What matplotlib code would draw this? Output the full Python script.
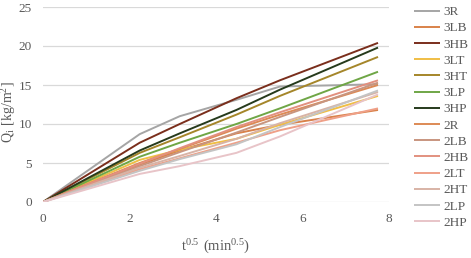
import matplotlib
matplotlib.use("Agg")
import matplotlib.pyplot as plt

x = [0, 2.236, 3.162, 4.472, 5.477, 7.746]

labels = ["3R", "3LB", "3HB", "3LT", "3HT", "3LP", "3HP",
          "2R", "2LB", "2HB", "2LT", "2HT", "2LP", "2HP"]

s_3R = [0, 8.7, 11.0, 13.1, 14.8, 15.1]
s_3LB = [0, 4.8, 6.6, 8.8, 9.9, 11.8]
s_3HB = [0, 7.6, 10.0, 13.3, 15.6, 20.4]
s_3LT = [0, 5.4, 6.7, 8.1, 9.9, 13.6]
s_3HT = [0, 6.3, 8.3, 11.2, 13.6, 18.6]
s_3LP = [0, 5.8, 7.6, 10.0, 12.0, 16.7]
s_3HP = [0, 6.6, 8.8, 11.8, 14.4, 19.8]
s_2R = [0, 5.0, 6.8, 9.4, 11.2, 15.0]
s_2LB = [0, 4.6, 6.4, 8.9, 10.9, 15.3]
s_2HB = [0, 4.9, 6.9, 9.6, 11.5, 15.6]
s_2LT = [0, 4.2, 5.6, 7.6, 9.2, 12.0]
s_2HT = [0, 4.4, 5.9, 8.1, 10.1, 14.1]
s_2LP = [0, 4.0, 5.5, 7.4, 9.6, 14.3]
s_2HP = [0, 3.6, 4.6, 6.3, 8.4, 13.8]

series = [s_3R, s_3LB, s_3HB, s_3LT, s_3HT, s_3LP, s_3HP,
          s_2R, s_2LB, s_2HB, s_2LT, s_2HT, s_2LP, s_2HP]

colors = ["#A5A5A5", "#D9824A", "#7A2E1C", "#F0BE45", "#A5862A", "#6FA646", "#263A1C",
          "#DD8A55", "#C8957F", "#E2907F", "#EFA088", "#D8B3A6", "#C4C4C4", "#E8C4C8"]

plt.rcParams['font.family'] = ['Liberation Serif', 'DejaVu Serif']
plt.rcParams['mathtext.fontset'] = 'custom'
plt.rcParams['mathtext.rm'] = 'Liberation Serif'

fig = plt.figure(figsize=(4.71, 2.58), dpi=100)
ax = fig.add_axes([43/471, 1-202/258, (389-43)/471, (202-7)/258])

for lab, ys, c in zip(labels, series, colors):
    ax.plot(x, ys, color=c, lw=1.4, label=lab, solid_capstyle='butt')

ax.set_xlim(0, 8)
ax.set_ylim(0, 25)
ax.set_xticks([0, 2, 4, 6, 8])
ax.set_yticks([0, 5, 10, 15, 20, 25])
ax.grid(axis='y', color='#D9D9D9', lw=0.9)
ax.set_axisbelow(True)
for sp in ax.spines.values():
    sp.set_visible(False)
ax.tick_params(length=0, labelsize=9.5, colors='#595959', pad=8)

ax.set_xlabel(r'$\mathregular{t^{0.5}\ (min^{0.5})}$', fontsize=10.5, color='#595959', labelpad=9)
ax.set_ylabel(r'$\mathregular{Q_i\ [kg/m^2]}$', fontsize=10, color='#595959')
ax.yaxis.set_label_coords((18 - 43) / 346, 0.46)

leg = ax.legend(loc='upper left', bbox_to_anchor=(414/471, 1-6/258), bbox_transform=fig.transFigure,
                frameon=False, fontsize=9.5, handlelength=2.0, handletextpad=0.2,
                labelspacing=0.3, borderaxespad=0, borderpad=0)
for t in leg.get_texts():
    t.set_color('#595959')

fig.savefig("out.png", dpi=100)
